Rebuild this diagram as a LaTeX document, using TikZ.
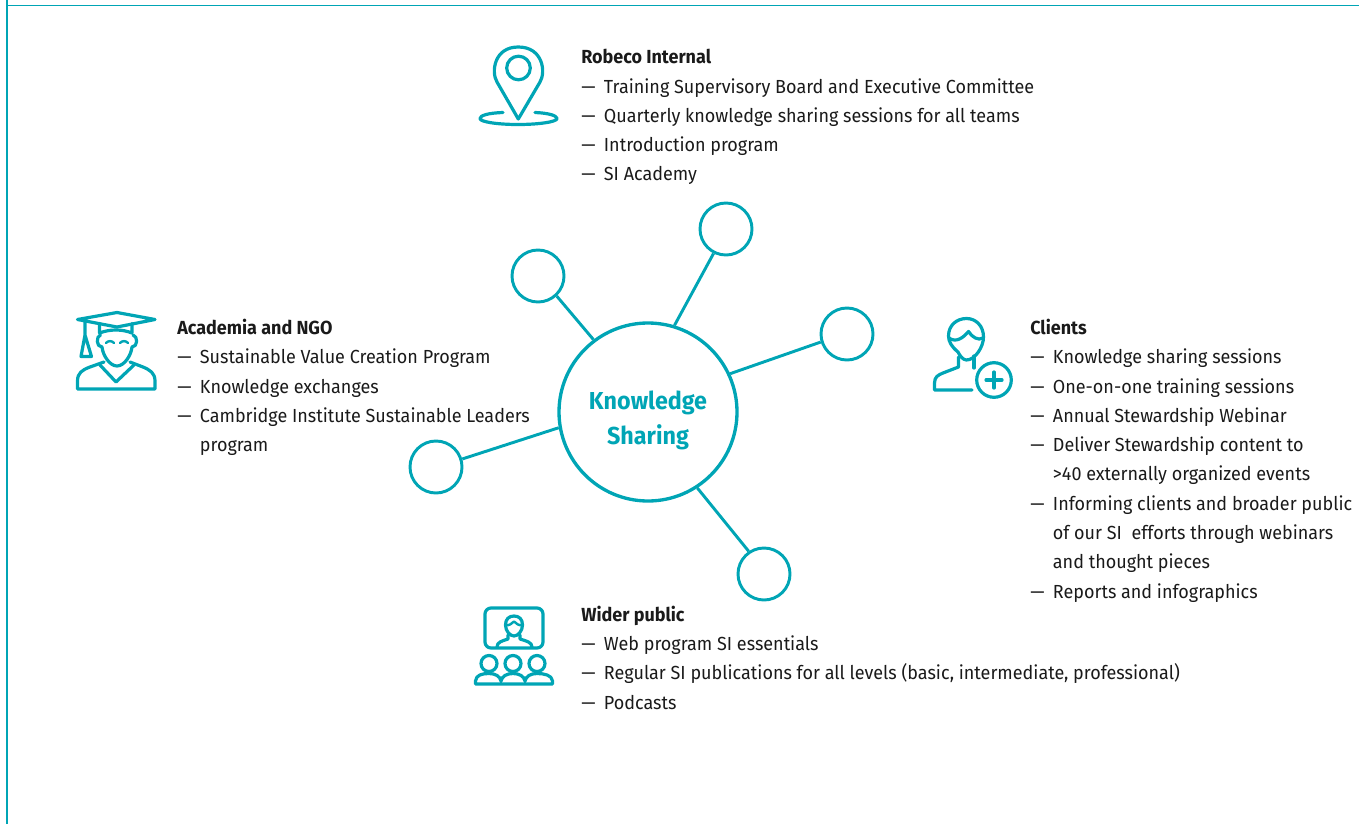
\documentclass[tikz,border=0pt]{standalone}
\usepackage{fontspec}
\setmainfont[FakeStretch=0.95]{Fira Sans}
\definecolor{teal}{HTML}{00A5B5}
\definecolor{ink}{HTML}{1A1A1A}
\newcommand{\itm}[1]{\makebox[17pt][l]{—}#1}
\newcommand{\cont}[1]{\hspace*{17pt}#1}
\tikzset{
  hubnode/.style={circle,draw=teal,line width=2.5pt,minimum size=133.5pt,inner sep=0pt},
  hublabel/.style={inner sep=0pt,text=teal,align=center,font=\fontsize{18.4}{26.2}\selectfont\bfseries},
  satnode/.style={circle,draw=teal,line width=2.2pt,minimum size=39pt,inner sep=0pt},
  linkline/.style={draw=teal,line width=2.2pt},
  icon/.style={draw=teal,line width=2.4pt,line cap=round,line join=round},
  thinicon/.style={draw=teal,line width=1.8pt,line cap=round,line join=round},
  border/.style={draw=teal,line width=1.5pt},
  block/.style={anchor=north west,inner sep=0pt,align=left,text=ink,font=\fontsize{14.2}{21.95}\selectfont}
}
\begin{document}
\begin{tikzpicture}[x=0.75pt,y=-0.75pt]
\useasboundingbox (0,0) rectangle (1359,824);
\coordinate (bl) at (7,824); \coordinate (tl) at (7,0);
\coordinate (tc) at (7,5.5); \coordinate (tr) at (1359,5.5);
\draw[border] (bl) -- (tl);
\draw[border,line width=1.3pt] (tc) -- (tr);
% hub and satellites
\node[hubnode] (hub) at (648,412) {};
\node[hublabel] (hubtext) at (648,420.5) {Knowledge\\Sharing};
\node[satnode] (s1) at (726,229) {};
\node[satnode] (s2) at (538,276) {};
\node[satnode] (s3) at (847,334) {};
\node[satnode] (s4) at (436,467) {};
\node[satnode] (s5) at (764,574) {};
\draw[linkline] (hub.73.6) -- (s1.243);
\draw[linkline] (hub.127.6) -- (s2.313);
\draw[linkline] (hub.25.4) -- (s3.197);
\draw[linkline] (hub.190) -- (s4.17);
\draw[linkline] (hub.303) -- (s5.124);
% text
\node[block] (t1) at (581,49.2) {\textbf{Robeco Internal}\\
 \itm{Training Supervisory Board and Executive Committee}\\
 \itm{Quarterly knowledge sharing sessions for all teams}\\
 \itm{Introduction program}\\
 \itm{SI Academy}};
\node[block] (t2) at (177,319) {\textbf{Academia and NGO}\\
 \itm{Sustainable Value Creation Program}\\
 \itm{Knowledge exchanges}\\
 \itm{Cambridge Institute Sustainable Leaders}\\
 \cont{program}};
\node[block] (t3) at (1030,319) {\textbf{Clients}\\
 \itm{Knowledge sharing sessions}\\
 \itm{One-on-one training sessions}\\
 \itm{Annual Stewardship Webinar}\\
 \itm{Deliver Stewardship content to}\\
 \cont{>40 externally organized events}\\
 \itm{Informing clients and broader public}\\
 \cont{of our SI\ \ efforts through webinars}\\
 \cont{and thought pieces}\\
 \itm{Reports and infographics}};
\node[block] (t4) at (581,605.8) {\textbf{Wider public}\\
 \itm{Web program SI essentials}\\
 \itm{Regular SI publications for all levels (basic, intermediate, professional)}\\
 \itm{Podcasts}};
% pin icon
\draw[icon] (518.3,119) -- (497,82) .. controls (491,72) and (494,47) .. (518.3,47) .. controls (543,47) and (546,72) .. (540,82) -- cycle;
\draw[icon] (518.5,68) circle[radius=11.8];
\draw[icon] (503,112.5) .. controls (488,113) and (480,115.5) .. (480,118.5) .. controls (480,122) and (498,124.5) .. (518,124.5) .. controls (538,124.5) and (557,122) .. (557,118.5) .. controls (557,115.5) and (548,113) .. (535,112.5);
% graduate icon
\draw[icon] (77.5,319.5) -- (117,312.5) -- (155,319.5) -- (117,327) -- cycle;
\draw[icon] (99.5,323.5) -- (99.5,333) .. controls (110,329) and (122,329) .. (132,333) -- (132,323.5);
\draw[icon] (85,321) -- (85,335) -- (81,356.5) -- (91.5,356.5) -- (85,335);
\draw[icon] (100.5,335) .. controls (96,336) and (96,347) .. (102,347) .. controls (103,356) and (110,366) .. (117,366) .. controls (124,366) and (131,356) .. (132,347) .. controls (138,347) and (138,336) .. (133,335);
\draw[thinicon] (106,343) .. controls (108,340.5) and (112,340.5) .. (114,343);
\draw[thinicon] (120,343) .. controls (122,340.5) and (126,340.5) .. (128,343);
\draw[icon] (104,362) -- (90,367) .. controls (82,370) and (77.5,373) .. (77.5,381) -- (77.5,389) -- (155,389) -- (155,381) .. controls (155,373) and (150,370) .. (143,367) -- (130,362);
\draw[icon] (100,365) -- (116,382) -- (134,365);
% client icon
\draw[icon] (958,352) .. controls (952,347) and (948.5,342) .. (948.5,336) .. controls (948.5,325) and (957,318.5) .. (966.5,318.5) .. controls (976,318.5) and (983.5,326) .. (983.5,337) .. controls (983.5,347) and (975,360) .. (966.5,360) .. controls (963,360) and (960,356) .. (958,352);
\draw[icon] (949,338) .. controls (956,343) and (963,338) .. (968.5,331.5) .. controls (972,337) and (978,341) .. (983,338);
\draw[icon] (958.5,357) -- (958.5,367) -- (943,373) .. controls (938,375) and (934.5,377) .. (934.5,383) -- (934.5,390) -- (972,390);
\draw[icon] (974,356) -- (974,368);
\draw[icon] (994,380) circle[radius=17.3];
\draw[icon] (986,380) -- (1002,380);
\draw[icon] (994,372) -- (994,388);
% wider public icon
\draw[icon,rounded corners=4.5pt] (485,608) rectangle (543,648);
\draw[icon] (505.5,625) .. controls (505.5,619) and (509,616) .. (514,616) .. controls (519,616) and (522.5,619) .. (522.5,625) .. controls (522.5,631) and (518,636) .. (514,636) .. controls (510,636) and (505.5,631) .. (505.5,625) -- cycle;
\draw[thinicon] (505.5,625) .. controls (509,626) and (512,623.5) .. (514,621.5) .. controls (516,623.5) and (519,626) .. (522.5,625);
\draw[icon] (497,647) .. controls (497,642) and (502,641) .. (508,639) -- (508,635);
\draw[icon] (532,647) .. controls (532,642) and (526,641) .. (520,639) -- (520,635);
\draw[icon] (489,663.5) circle[radius=8];
\draw[icon] (513,663.5) circle[radius=8];
\draw[icon] (537,663.5) circle[radius=8];
\draw[icon] (475.5,684) -- (475.5,681) .. controls (476,675) and (482,673.5) .. (489,673.5) .. controls (495,673.5) and (500,676) .. (501,681) .. controls (502,676) and (507,673.5) .. (513,673.5) .. controls (519,673.5) and (524,676) .. (525,681) .. controls (526,676) and (531,673.5) .. (537,673.5) .. controls (544,673.5) and (552,675) .. (552.5,681) -- (552.5,684) -- cycle;
\end{tikzpicture}
\end{document}
